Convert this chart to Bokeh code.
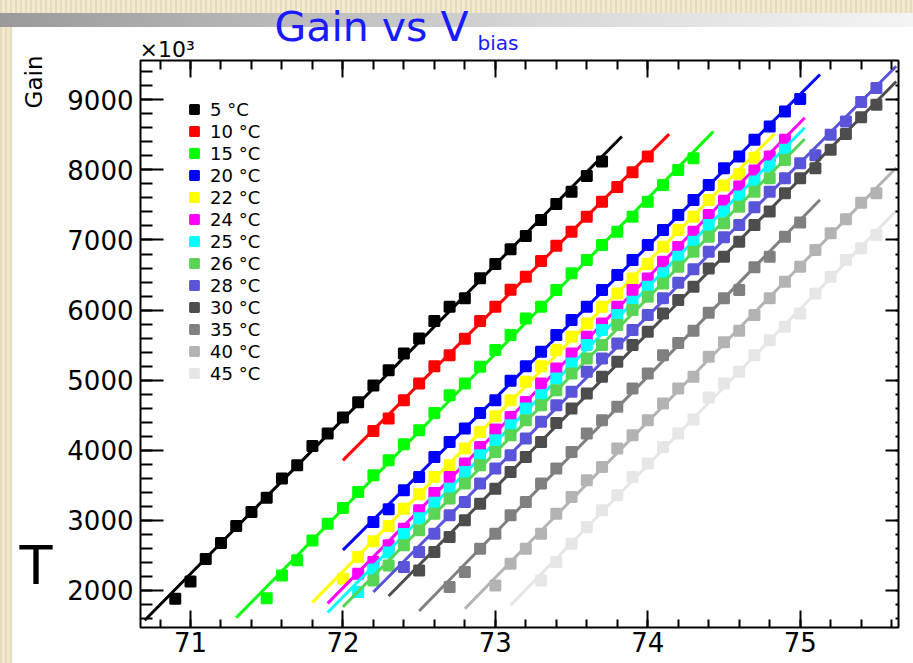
import numpy as np
from bokeh.plotting import figure
from bokeh.models import (Range1d, LinearAxis, SingleIntervalTicker, Label,
                          Legend, LegendItem)
from bokeh.embed import file_html
from bokeh.resources import INLINE

# ---------------- data ----------------
series_labels = ["5 °C", "10 °C", "15 °C", "20 °C", "22 °C", "24 °C", "25 °C",
                 "26 °C", "28 °C", "30 °C", "35 °C", "40 °C", "45 °C"]
series_colors = ["#000000", "#ff0000", "#00ff00", "#0000ff", "#ffff00", "#ff00ff",
                 "#00ffff", "#59d454", "#5954d9", "#4d4d4d", "#808080", "#b3b3b3",
                 "#e6e6e6"]

v_5C = [70.9, 71.0, 71.1, 71.2, 71.3, 71.4, 71.5, 71.6, 71.7, 71.8, 71.9, 72.0, 72.1,
        72.2, 72.3, 72.4, 72.5, 72.6, 72.7, 72.8, 72.9, 73.0, 73.1, 73.2, 73.3, 73.4,
        73.5, 73.6, 73.7]
g_5C = [1881, 2129, 2447, 2676, 2919, 3119, 3324, 3596, 3786, 4061, 4239, 4467, 4686,
        4924, 5143, 5380, 5596, 5843, 6047, 6167, 6453, 6657, 6867, 7057, 7286, 7514,
        7690, 7914, 8119]

v_10C = [72.2, 72.3, 72.4, 72.5, 72.6, 72.7, 72.8, 72.9, 73.0, 73.1, 73.2, 73.3, 73.4,
         73.5, 73.6, 73.7, 73.8, 73.9, 74.0]
g_10C = [4276, 4453, 4714, 4953, 5200, 5357, 5590, 5845, 6047, 6290, 6476, 6700, 6917,
         7119, 7330, 7547, 7755, 7965, 8190]

v_15C = [71.5, 71.6, 71.7, 71.8, 71.9, 72.0, 72.1, 72.2, 72.3, 72.4, 72.5, 72.6, 72.7,
         72.8, 72.9, 73.0, 73.1, 73.2, 73.3, 73.4, 73.5, 73.6, 73.7, 73.8, 73.9, 74.0,
         74.1, 74.2, 74.3]
g_15C = [1890, 2214, 2429, 2714, 2953, 3176, 3404, 3643, 3857, 4086, 4286, 4533, 4786,
         4953, 5190, 5429, 5643, 5881, 6047, 6286, 6524, 6714, 6929, 7119, 7333, 7547,
         7786, 8000, 8167]

v_20C = [72.2, 72.3, 72.4, 72.5, 72.6, 72.7, 72.8, 72.9, 73.0, 73.1, 73.2, 73.3, 73.4,
         73.5, 73.6, 73.7, 73.8, 73.9, 74.0, 74.1, 74.2, 74.3, 74.4, 74.5, 74.6, 74.7,
         74.8, 74.9, 75.0]
g_20C = [2976, 3157, 3429, 3619, 3904, 4119, 4310, 4533, 4714, 4990, 5200, 5404, 5643,
         5857, 6047, 6286, 6500, 6714, 6929, 7143, 7357, 7571, 7786, 8024, 8190, 8429,
         8619, 8833, 9010]

v_22C = [72.0, 72.1, 72.2, 72.3, 72.4, 72.5, 72.6, 72.7, 72.8, 72.9, 73.0, 73.1, 73.2,
         73.3, 73.4, 73.5, 73.6, 73.7, 73.8, 73.9, 74.0, 74.1, 74.2, 74.3, 74.4, 74.5,
         74.6, 74.7]
g_22C = [2167, 2476, 2700, 2919, 3167, 3371, 3619, 3786, 4024, 4262, 4486, 4714, 4976,
         5200, 5429, 5619, 5810, 6047, 6238, 6452, 6657, 6905, 7143, 7333, 7571, 7776,
         7940, 8175]

v_24C = [72.1, 72.2, 72.3, 72.4, 72.5, 72.6, 72.7, 72.8, 72.9, 73.0, 73.1, 73.2, 73.3,
         73.4, 73.5, 73.6, 73.7, 73.8, 73.9, 74.0, 74.1, 74.2, 74.3, 74.4, 74.5, 74.6,
         74.7, 74.8, 74.9]
g_24C = [2238, 2405, 2643, 2881, 3143, 3390, 3619, 3810, 4048, 4295, 4476, 4690, 4952,
         5167, 5381, 5619, 5810, 6047, 6286, 6452, 6690, 6900, 7119, 7357, 7560, 7762,
         7990, 8190, 8429]

v_25C = [72.1, 72.2, 72.3, 72.4, 72.5, 72.6, 72.7, 72.8, 72.9, 73.0, 73.1, 73.2, 73.3,
         73.4, 73.5, 73.6, 73.7, 73.8, 73.9, 74.0, 74.1, 74.2, 74.3, 74.4, 74.5, 74.6,
         74.7, 74.8, 74.9]
g_25C = [1976, 2300, 2540, 2805, 3030, 3250, 3452, 3690, 3929, 4143, 4357, 4595, 4786,
         5024, 5238, 5500, 5714, 5929, 6119, 6333, 6524, 6762, 6976, 7214, 7405, 7619,
         7833, 8048, 8286]

v_26C = [72.2, 72.3, 72.4, 72.5, 72.6, 72.7, 72.8, 72.9, 73.0, 73.1, 73.2, 73.3, 73.4,
         73.5, 73.6, 73.7, 73.8, 73.9, 74.0, 74.1, 74.2, 74.3, 74.4, 74.5, 74.6, 74.7,
         74.8, 74.9]
g_26C = [2143, 2357, 2643, 2857, 3095, 3310, 3524, 3786, 3976, 4214, 4429, 4643, 4857,
         5095, 5310, 5500, 5786, 6000, 6190, 6381, 6619, 6833, 7048, 7238, 7476, 7690,
         7881, 8143]

v_28C = [72.4, 72.5, 72.6, 72.7, 72.8, 72.9, 73.0, 73.1, 73.2, 73.3, 73.4, 73.5, 73.6,
         73.7, 73.8, 73.9, 74.0, 74.1, 74.2, 74.3, 74.4, 74.5, 74.6, 74.7, 74.8, 74.9,
         75.0, 75.1, 75.2, 75.3, 75.4, 75.5]
g_28C = [2333, 2547, 2810, 3071, 3262, 3524, 3738, 3929, 4167, 4405, 4643, 4833, 5119,
         5310, 5524, 5714, 5929, 6170, 6390, 6581, 6833, 7038, 7214, 7467, 7690, 7881,
         8095, 8210, 8500, 8690, 8970, 9167]

v_30C = [72.5, 72.6, 72.7, 72.8, 72.9, 73.0, 73.1, 73.2, 73.3, 73.4, 73.5, 73.6, 73.7,
         73.8, 73.9, 74.0, 74.1, 74.2, 74.3, 74.4, 74.5, 74.6, 74.7, 74.8, 74.9, 75.0,
         75.1, 75.2, 75.3, 75.4, 75.5]
g_30C = [2286, 2547, 2762, 3000, 3238, 3452, 3690, 3905, 4119, 4390, 4595, 4810, 5048,
         5262, 5500, 5690, 5952, 6143, 6333, 6595, 6762, 6976, 7214, 7405, 7667, 7881,
         8024, 8286, 8514, 8752, 8929]

v_35C = [72.7, 72.8, 72.9, 73.0, 73.1, 73.2, 73.3, 73.4, 73.5, 73.6, 73.7, 73.8, 73.9,
         74.0, 74.1, 74.2, 74.3, 74.4, 74.5, 74.6, 74.7, 74.8, 74.9, 75.0]
g_35C = [2048, 2262, 2595, 2810, 3071, 3262, 3524, 3738, 3976, 4238, 4429, 4619, 4881,
         5095, 5357, 5530, 5705, 5962, 6167, 6286, 6610, 6762, 7048, 7248]

v_40C = [73.0, 73.1, 73.2, 73.3, 73.4, 73.5, 73.6, 73.7, 73.8, 73.9, 74.0, 74.1, 74.2,
         74.3, 74.4, 74.5, 74.6, 74.7, 74.8, 74.9, 75.0, 75.1, 75.2, 75.3, 75.4, 75.5]
g_40C = [2071, 2381, 2595, 2810, 3095, 3333, 3571, 3762, 4024, 4214, 4429, 4667, 4881,
         5048, 5333, 5540, 5705, 5929, 6167, 6405, 6619, 6857, 7095, 7295, 7530, 7667]

v_45C = [73.3, 73.4, 73.5, 73.6, 73.7, 73.8, 73.9, 74.0, 74.1, 74.2, 74.3, 74.4, 74.5,
         74.6, 74.7, 74.8, 74.9, 75.0, 75.1, 75.2, 75.3, 75.4, 75.5]
g_45C = [2143, 2405, 2667, 2905, 3143, 3357, 3619, 3810, 4048, 4238, 4438, 4752, 4952,
         5119, 5357, 5570, 5762, 5952, 6238, 6476, 6714, 6881, 7071]

# linear-fit ranges (V) of the drawn fit lines
fit_lo = [70.70, 72.00, 71.30, 72.00, 71.80, 71.90, 71.90, 72.00, 72.20, 72.30, 72.50,
          72.80, 73.10]
fit_hi = [73.83, 74.14, 74.43, 75.13, 74.83, 75.03, 75.03, 75.03, 75.63, 75.63, 75.13,
          75.63, 75.63]

volts = [v_5C, v_10C, v_15C, v_20C, v_22C, v_24C, v_25C, v_26C, v_28C, v_30C, v_35C,
         v_40C, v_45C]
gains = [g_5C, g_10C, g_15C, g_20C, g_22C, g_24C, g_25C, g_26C, g_28C, g_30C, g_35C,
         g_40C, g_45C]

title_main = "Gain vs V"
title_sub = "bias"
y_exponent = "×10³"
y_label = "Gain"
side_mark = "T"

x_ticks_interval = 1
y_ticks_interval = 1000

FONT = "DejaVu Sans"
W, H = 913, 663

# ---------------- page background + texts outside the frame ----------------
bg = figure(width=W, height=H, x_range=Range1d(0, W), y_range=Range1d(H, 0),
            output_backend="svg", toolbar_location=None, title=None,
            min_border_left=0, min_border_right=0, min_border_top=0,
            min_border_bottom=0, x_axis_type=None, y_axis_type=None)
bg.outline_line_color = None
bg.background_fill_color = None
bg.border_fill_color = None
bg.styles = {
    "position": "absolute", "left": "0px", "top": "0px", "z-index": "0",
    "background": (
        "linear-gradient(#ffffff,#ffffff) 12px 27px / 901px 636px no-repeat, "
        "linear-gradient(to right, #9a9a9a, #d8d8d8 60%, #f4f4f4) 0px 13px / 913px 14px no-repeat, "
        "repeating-linear-gradient(90deg, rgba(185,160,115,0.20) 0px, rgba(185,160,115,0.20) 2px, "
        "rgba(0,0,0,0) 2px, rgba(0,0,0,0) 5px), #f2e9d0"
    ),
}
# text anchors: vertical middle of the capitals
bg.add_layout(Label(x=274, y=26, text=title_main, text_color="#1a1aff",
                    text_font=FONT, text_font_size="41px", text_baseline="middle"))
bg.add_layout(Label(x=477, y=42, text=title_sub, text_color="#1a1aff",
                    text_font=FONT, text_font_size="20px", text_baseline="middle"))
bg.add_layout(Label(x=139, y=49, text=y_exponent, text_color="black",
                    text_font=FONT, text_font_size="22px", text_baseline="middle"))
bg.add_layout(Label(x=33, y=55, text=y_label, text_color="black", text_font=FONT,
                    text_font_size="23px", text_baseline="middle",
                    text_align="right", angle=np.pi / 2))
bg.add_layout(Label(x=19, y=565, text=side_mark, text_color="black", text_font=FONT,
                    text_font_size="54px", text_baseline="middle"))

# ---------------- the chart ----------------
X_LO, X_HI = 70.672, 75.645
Y_LO, Y_HI = 1471, 9561
FL, FT, FR, FB = 140, 60, 898, 627   # frame in page pixels

p = figure(width=W, height=H, x_range=Range1d(X_LO, X_HI),
           y_range=Range1d(Y_LO, Y_HI), output_backend="svg", title=None,
           toolbar_location=None, min_border_left=FL, min_border_right=W - FR,
           min_border_top=FT, min_border_bottom=H - FB)
p.border_fill_color = None
p.background_fill_color = "white"
p.outline_line_color = "black"
p.outline_line_width = 2
p.grid.visible = False
p.styles = {"position": "absolute", "left": "0px", "top": "0px", "z-index": "1"}

xa = p.xaxis[0]
xa.ticker = SingleIntervalTicker(interval=x_ticks_interval, num_minor_ticks=5)
ya = p.yaxis[0]
ya.ticker = SingleIntervalTicker(interval=y_ticks_interval, num_minor_ticks=5)
for ax, mj, mn, so in ((xa, 17, 8, 4), (ya, 23, 12, 7)):
    ax.axis_line_color = None
    ax.major_tick_in = mj
    ax.major_tick_out = 0
    ax.minor_tick_in = mn
    ax.minor_tick_out = 0
    ax.major_tick_line_width = 2
    ax.minor_tick_line_width = 2
    ax.major_tick_line_color = "black"
    ax.minor_tick_line_color = "black"
    ax.major_label_text_font = FONT
    ax.major_label_text_font_size = "26px"
    ax.major_label_text_color = "black"
    ax.major_label_standoff = so

ax_top = LinearAxis(ticker=SingleIntervalTicker(interval=x_ticks_interval, num_minor_ticks=5),
                    major_label_text_font_size="0px", major_label_text_color=None,
                    major_label_standoff=0,
                    axis_line_color=None, major_tick_in=17, major_tick_out=0,
                    minor_tick_in=9, minor_tick_out=0, major_tick_line_width=2,
                    minor_tick_line_width=2)
p.add_layout(ax_top, "above")
ax_right = LinearAxis(ticker=SingleIntervalTicker(interval=y_ticks_interval, num_minor_ticks=5),
                      major_label_text_font_size="0px", major_label_text_color=None,
                      major_label_standoff=0,
                      axis_line_color=None, major_tick_in=13, major_tick_out=0,
                      minor_tick_in=3, minor_tick_out=0, major_tick_line_width=2,
                      minor_tick_line_width=2)
p.add_layout(ax_right, "right")

items = []
for lab, col, v, g, lo, hi in zip(series_labels, series_colors, volts, gains, fit_lo, fit_hi):
    coef = np.polyfit(v, g, 1)
    xs = [lo, hi]
    ys = list(np.polyval(coef, xs))
    p.line(xs, ys, line_color=col, line_width=3)
    r = p.scatter(v, g, marker="square", size=10, fill_color=col, line_color=col,
                  line_width=2)
    items.append(LegendItem(label=lab, renderers=[r]))

legend = Legend(items=items, location=(43, 243), glyph_width=22, glyph_height=22,
                label_height=22, spacing=0, padding=0, margin=0, label_standoff=5,
                border_line_color=None, background_fill_alpha=0,
                label_text_font=FONT, label_text_font_size="18px",
                label_text_color="black")
p.add_layout(legend)

open("out.html", "w").write(file_html([bg, p], INLINE))
